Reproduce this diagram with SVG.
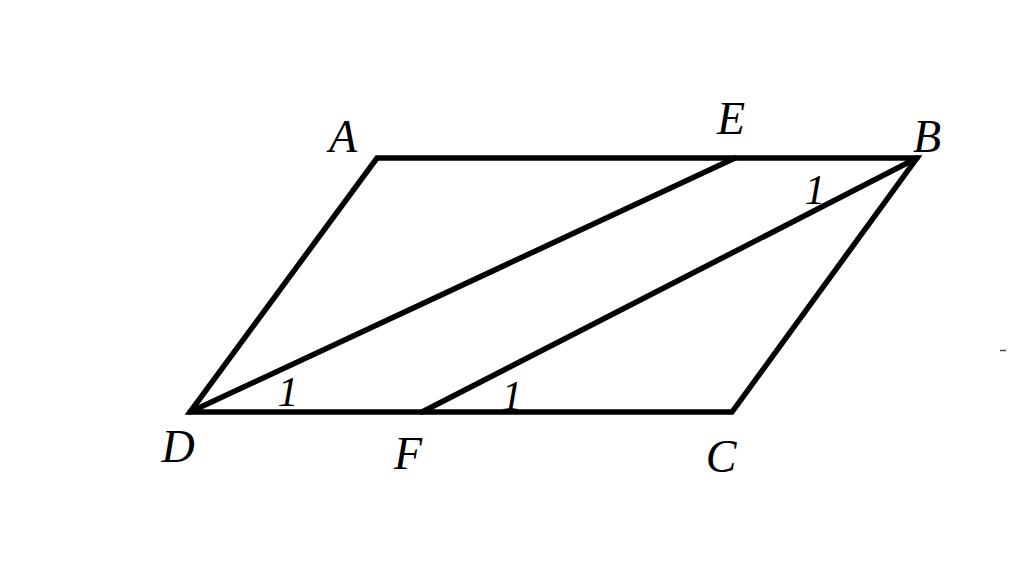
<svg xmlns="http://www.w3.org/2000/svg" width="1024" height="561" viewBox="0 0 1024 561">
<style>
.ln{stroke:#000;stroke-width:5.5;fill:none;stroke-linejoin:miter;stroke-linecap:round}
.lb{font-family:"Liberation Serif","DejaVu Serif",serif;font-style:italic;font-size:46px;fill:#000;text-anchor:middle}
.n1{font-family:"Liberation Serif","DejaVu Serif",serif;font-style:italic;font-size:42px;fill:#000;text-anchor:middle}
</style>
<rect width="1024" height="561" fill="#fff"/>
<g id="connectors">
<polygon class="ln" points="377,158 917,158 732,412 190,412"/>
<line class="ln" x1="190" y1="412" x2="735" y2="158"/>
<line class="ln" x1="422" y1="412" x2="917" y2="158"/>
<line x1="1000" y1="350.5" x2="1006" y2="350.5" stroke="#444" stroke-width="1.5"/>
</g>
<g id="A"><text class="lb" x="343" y="152">A</text></g>
<g id="E"><text class="lb" x="731" y="134">E</text></g>
<g id="B"><text class="lb" x="927" y="152">B</text></g>
<g id="D"><text class="lb" x="178" y="462">D</text></g>
<g id="F"><text class="lb" x="408" y="469">F</text></g>
<g id="C"><text class="lb" x="721" y="472">C</text></g>
<g id="angle1B"><text class="n1" x="815" y="204">1</text></g>
<g id="angle1D"><text class="n1" x="288" y="406">1</text></g>
<g id="angle1F"><text class="n1" x="512" y="410">1</text></g>
</svg>
